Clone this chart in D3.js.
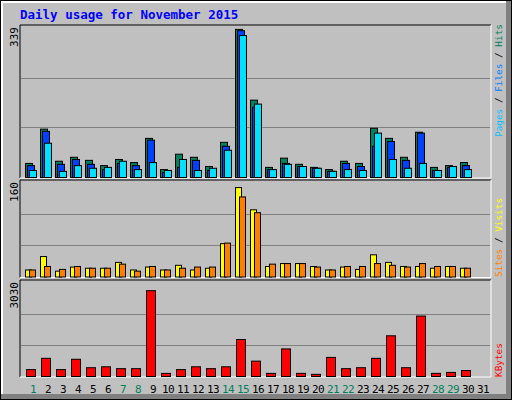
<!DOCTYPE html>
<html><head><meta charset="utf-8">
<script src="https://cdn.jsdelivr.net/npm/d3@7"></script>
<style>body{margin:0;background:#fff}</style></head>
<body><svg id="c" width="512" height="400"></svg>
<script>
const days = d3.range(1, 32);
const weekend = [1,7,8,14,15,21,22,28,29];
const hits  = [32,110,37,46,39,27,41,34,89,18,53,46,25,80,337,176,23,44,30,23,18,37,32,112,89,46,103,23,27,34,0];
const files = [27,105,30,41,30,18,32,27,85,11,23,39,16,71,334,160,18,32,25,21,14,32,25,71,82,39,101,16,23,27,0];
const pages = [16,78,14,27,21,23,37,18,34,16,41,16,21,62,323,167,18,30,25,21,14,18,16,101,41,21,32,16,25,18,0];
const visits= [12,35,10,17,15,15,25,12,17,12,20,12,15,57,153,115,18,23,23,18,12,17,13,38,25,18,18,15,18,15,0];
const sites = [12,18,13,18,15,15,22,10,18,12,15,17,17,58,137,110,22,23,23,17,12,18,18,23,20,17,23,18,18,15,0];
const kbytes= [224,592,224,561,286,316,255,255,2795,102,224,316,255,316,1204,500,102,898,102,71,622,255,286,592,1326,286,1969,102,133,194,0];
const maxLabels = ["339","160","3030"];

const svg = d3.select("#c");
const F = "'DejaVu Sans Mono', monospace";
svg.append("rect").attr("x",0).attr("y",0).attr("width",512).attr("height",400).attr("fill","#000");
svg.append("rect").attr("x",1).attr("y",1).attr("width",510).attr("height",398).attr("fill","#808080");
svg.append("rect").attr("x",1).attr("y",1).attr("width",505).attr("height",393).attr("fill","#fff");
svg.append("rect").attr("x",3).attr("y",3).attr("width",503).attr("height",391).attr("fill","#C0C0C0");
svg.append("text").attr("x",20).attr("y",19).attr("font-family",F).attr("font-weight","bold")
  .attr("font-size",12.5).attr("fill","#0000FF").text("Daily usage for November 2015");

const x = d3.scaleBand().domain(days).range([25, 490]).paddingInner(0).paddingOuter(0);
const panels = [
  {y0:25,y1:177,max:339,series:[[hits,"#00805C",0,8],[files,"#0040FF",2,8],[pages,"#00E0FF",4,8]]},
  {y0:180,y1:276.5,max:160,series:[[visits,"#FFFF00",0,7],[sites,"#FF8000",4,7]]},
  {y0:280,y1:376,max:3030,series:[[kbytes,"#FF0000",1,10]]}
];
panels.forEach((p,i)=>{
  svg.append("line").attr("x1",20).attr("x2",491).attr("y1",p.y0).attr("y2",p.y0).attr("stroke","#000");
  svg.append("line").attr("x1",20).attr("x2",20).attr("y1",p.y0).attr("y2",p.y1+1).attr("stroke","#000");
  svg.append("line").attr("x1",491).attr("x2",491).attr("y1",p.y0).attr("y2",p.y1+1).attr("stroke","#fff");
  svg.append("line").attr("x1",20).attr("x2",491).attr("y1",p.y1+1).attr("y2",p.y1+1).attr("stroke","#fff");
  const y = d3.scaleLinear().domain([0,p.max]).range([p.y1, p.y0+3]);
  [1/3,2/3].forEach(f=>{
    const gy = Math.round(p.y1 - (p.y1-p.y0-3)*f)+0.5;
    svg.append("line").attr("x1",21).attr("x2",490).attr("y1",gy).attr("y2",gy).attr("stroke","#808080");
  });
  p.series.forEach(([vals,col,off,w])=>{
    svg.append("g").selectAll("rect").data(days.filter((d,j)=>vals[j]>0)).join("rect")
      .attr("x",d=>x(d)+off+0.5).attr("width",w-1)
      .attr("y",d=>y(vals[d-1])+0.5).attr("height",d=>p.y1-y(vals[d-1]))
      .attr("fill",col).attr("stroke","#000").attr("stroke-width",1);
  });
  svg.append("text").attr("transform",`translate(18,${p.y0+2}) rotate(-90)`).attr("text-anchor","end")
    .attr("font-family",F).attr("font-size",11).attr("fill","#000").text(maxLabels[i]);
});
function rlabel(yEnd, parts){
  const t = svg.append("text").attr("transform",`translate(502,${yEnd}) rotate(-90)`)
    .attr("font-family",F).attr("font-size",9.4);
  parts.forEach(([s,c])=>t.append("tspan").attr("fill",c).text(s));
}
rlabel(137,[["Pages","#00C0FF"],["/","#000"],["Files","#0080FF"],["/","#000"],["Hits","#00805C"]].map(([s,c])=>[s==="/"?" / ":s,c]));
rlabel(277,[["Sites","#FF8000"],[" / ","#000"],["Visits","#FFFF00"]]);
rlabel(377,[["KBytes","#FF0000"]]);
svg.append("g").selectAll("text").data(days).join("text")
  .attr("x",d=>x(d)+8).attr("y",393).attr("text-anchor","middle")
  .attr("font-family",F).attr("font-size",11).attr("letter-spacing",-0.5)
  .attr("fill",d=>weekend.includes(d)?"#00805C":"#000").text(d=>d);
</script></body></html>
